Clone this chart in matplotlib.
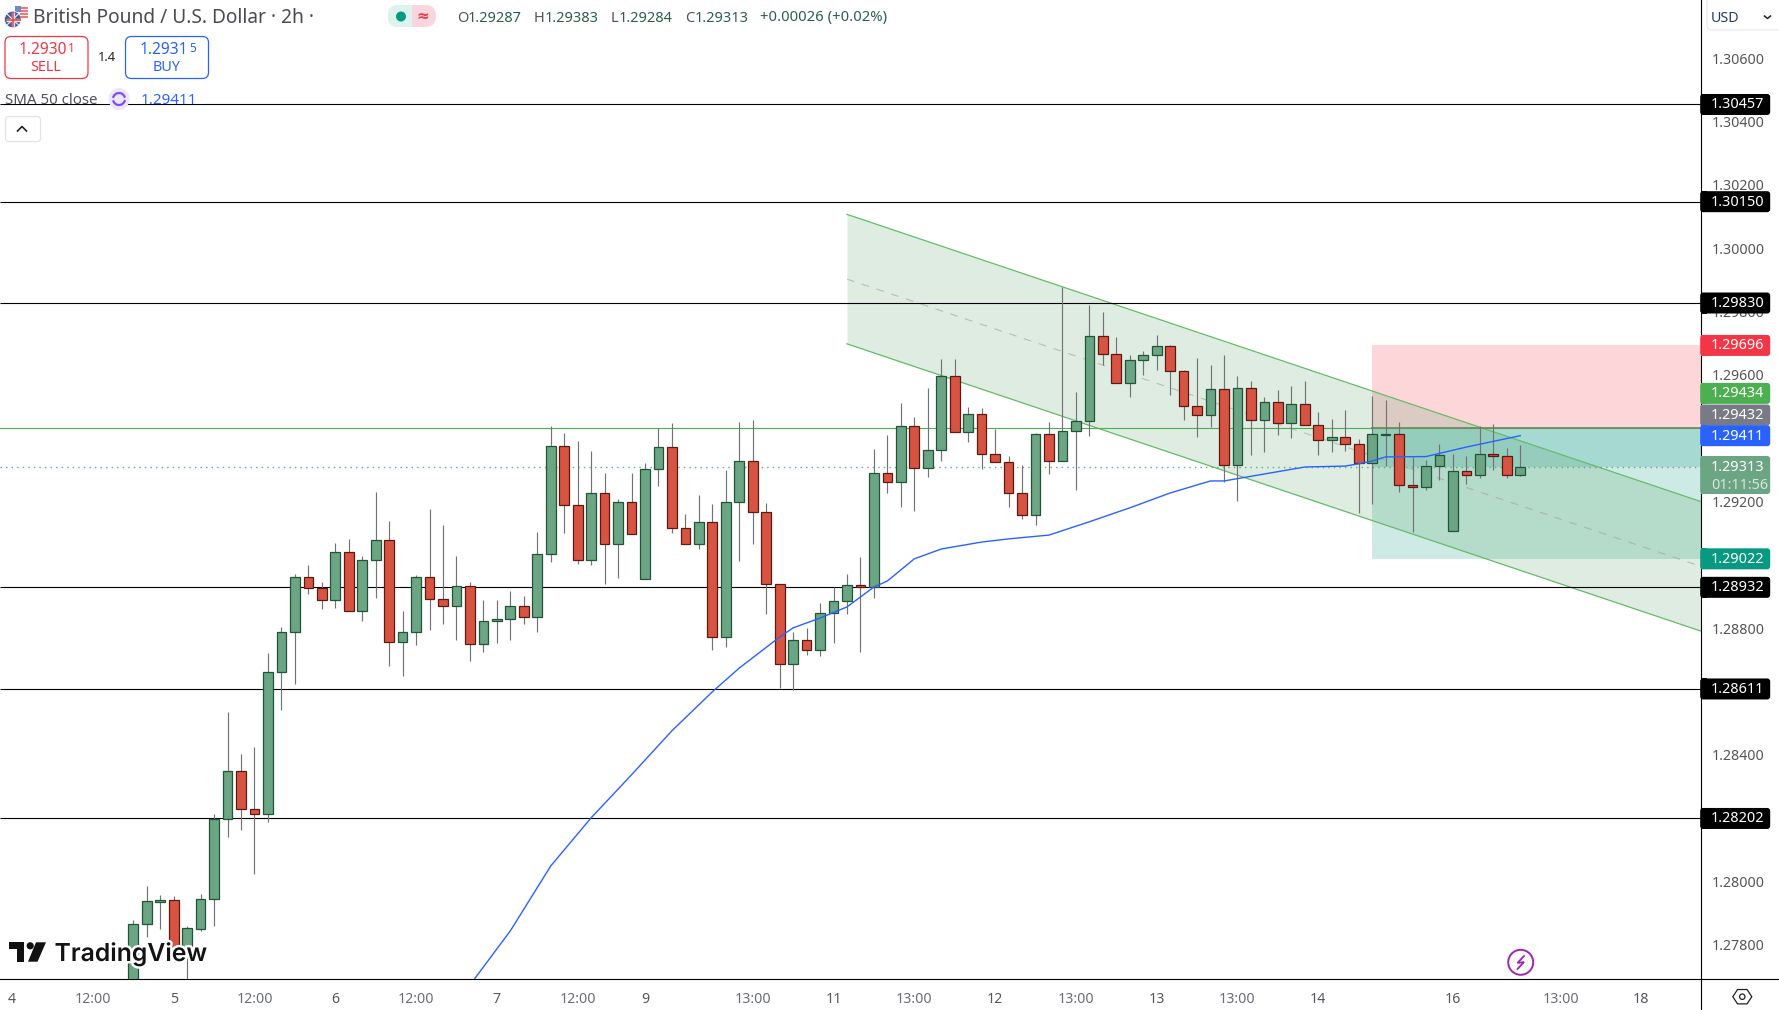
import numpy as np
import matplotlib
matplotlib.use("Agg")
import matplotlib.pyplot as plt
import matplotlib.patheffects as pe
from matplotlib.patches import FancyBboxPatch, Rectangle, Circle, Polygon, Ellipse
from matplotlib.transforms import ScaledTranslation

# ---------- data (prices in 1e-5 points) ----------
open_pts = [127629,127868,127939,127944,127762,127854,127947,128200,128351,128231,
            128215,128664,128790,128964,128929,128891,129043,128857,129018,129081,
            128759,128790,128964,128894,128872,128935,128752,128825,128831,128872,
            128838,129036,129378,129191,129018,129229,129068,129201,128958,129305,
            129374,129119,129068,129138,128774,129201,129330,129169,128942,128689,
            128765,128733,128850,128888,128939,128934,129292,129264,129441,129308,
            129365,129599,129422,129479,129352,129327,129229,129160,129415,129330,
            129425,129456,129725,129668,129576,129649,129665,129693,129614,129504,
            129475,129558,129318,129561,129460,129516,129450,129510,129444,129396,
            129406,129384,129324,129412,129415,129254,129248,129314,129109,129299,
            129288,129352,129346,129287]
close_pts = [127868,127941,127945,127762,127855,127947,128200,128351,128231,128215,
             128664,128790,128964,128929,128891,129043,128857,129018,129081,128759,
             128790,128964,128894,128872,128935,128752,128825,128831,128872,128838,
             129036,129378,129191,129018,129229,129068,129201,129100,129305,129374,
             129119,129068,129138,128774,129201,129330,129169,128942,128689,128765,
             128733,128850,128888,128939,128934,129292,129264,129441,129308,129365,
             129599,129422,129479,129352,129327,129229,129160,129415,129330,129425,
             129456,129725,129668,129576,129649,129665,129693,129614,129504,129475,
             129558,129318,129561,129460,129516,129450,129510,129444,129396,129406,
             129384,129324,129415,129415,129254,129248,129314,129349,129299,129288,
             129352,129346,129286,129313]
high_pts = [127882,127989,127960,127957,127863,127964,128216,128539,128406,128428,
            128725,128807,128974,129003,128948,129072,129085,129031,129233,129142,
            128857,128971,129180,129129,129031,128949,128892,128892,128921,128905,
            129107,129442,129420,129394,129363,129293,129211,129293,129325,129435,
            129451,129164,129224,129195,129303,129454,129461,129198,128942,128791,
            128804,128883,128933,128974,129028,129369,129413,129514,129470,129562,
            129653,129653,129502,129498,129433,129347,129318,129420,129454,129880,
            129549,129824,129802,129723,129666,129678,129729,129697,129618,129656,
            129634,129666,129600,129584,129533,129555,129568,129584,129486,129464,
            129492,129401,129536,129524,129454,129343,129334,129384,129353,129347,
            129441,129448,129372,129383]
low_pts = [127613,127829,127854,127749,127661,127848,127863,128145,128166,128027,
           128192,128543,128628,128912,128865,128868,128857,128827,128899,128685,
           128653,128751,128798,128817,128767,128700,128729,128757,128767,128817,
           128792,129013,129105,129007,129004,128941,128963,129100,128958,129253,
           129105,129068,129054,128735,128742,129016,129070,128849,128615,128609,
           128719,128716,128757,128849,128729,128899,129231,129187,129174,129282,
           129332,129422,129392,129307,129327,129187,129149,129130,129291,129330,
           129240,129411,129635,129576,129534,129604,129619,129540,129462,129408,
           129439,129264,129206,129351,129360,129414,129405,129444,129351,129360,
           129364,129168,129196,129314,129234,129108,129240,129271,129109,129259,
           129278,129304,129276,129284]
sma_idx = [25,28,31,34,37,40,43,45,48,49,51,53,55,56,58,60,63,65,68,71,74,77,80,81,84,87,90,91,92,93,96,99,103]
sma_pts = [127676,127847,128052,128204,128340,128479,128602,128677,128775,128804,128835,128870,
           128933,128952,129022,129053,129075,129085,129097,129139,129183,129230,129268,129268,
           129290,129312,129315,129322,129331,129344,129345,129375,129411]
levels = [1.30457, 1.30150, 1.29830, 1.28932, 1.28611, 1.28202]
entry_price = 1.29434
stop_price = 1.29696
target_price = 1.29022
last_price = 1.29313
sma_last = 1.29411
ask_line = 1.29432
channel_t = [53, 116.4]
channel_upper = [1.30110, 1.29203]
channel_lower = [1.29701, 1.28794]
box_start = 92
ytick_vals = [1.306,1.304,1.302,1.300,1.298,1.296,1.292,1.288,1.284,1.280,1.278]
xtick_idx = [-9,-3,3,9,15,21,27,33,38,46,52,58,64,70,76,82,88,98,106,112]
xtick_lab = ['4','12:00','5','12:00','6','12:00','7','12:00','9','13:00','11','13:00','12','13:00','13','13:00','14','16','13:00','18']
tag_labels = ['1.30457','1.30150','1.29830','1.29696','1.29434','1.29432','1.29411','1.29022','1.28932','1.28611','1.28202']

# ---------- style ----------
W, H = 1779, 1010
FONT = 'Noto Sans'
plt.rcParams['font.family'] = [FONT, 'DejaVu Sans']
GF, GE = '#6BA583', '#225437'
RF, RE = '#D75442', '#5B1A13'
WICK = '#737375'
AX_R, AX_B = 1700.7, 979.3
o = np.array(open_pts)/1e5; c = np.array(close_pts)/1e5
h = np.array(high_pts)/1e5; l = np.array(low_pts)/1e5
idx = np.arange(len(o))

fig = plt.figure(figsize=(W/100, H/100), dpi=100, facecolor='white')
ax = fig.add_axes([0, 1-AX_B/H, AX_R/W, AX_B/H])
ax.set_xlim(-9.9, 116.4)
ax.set_ylim(1.27694, 1.30787)
for s in ('top', 'left'):
    ax.spines[s].set_visible(False)
for s in ('right', 'bottom'):
    ax.spines[s].set_color('black'); ax.spines[s].set_linewidth(0.8)

# position box
bx = (box_start+9.9)/126.3
ax.axhspan(entry_price, stop_price, xmin=bx, xmax=1, color='#F23645', alpha=0.2, lw=0, zorder=1)
ax.axhspan(target_price, entry_price, xmin=bx, xmax=1, color='#089981', alpha=0.2, lw=0, zorder=1)
ax.axhspan(last_price, entry_price, xmin=bx, xmax=1, color='#089981', alpha=0.2, lw=0, zorder=1)
# channel
ax.fill_between(channel_t, channel_lower, channel_upper, color='#4C9A5A', alpha=0.18, lw=0, zorder=1.2)
ax.plot(channel_t, channel_upper, color='#66BB6A', lw=0.9, zorder=1.5)
ax.plot(channel_t, channel_lower, color='#66BB6A', lw=0.9, zorder=1.5)
ax.plot(channel_t, (np.array(channel_upper)+np.array(channel_lower))/2, color='#9E9E9E', lw=0.8,
        ls=(0, (7, 7)), alpha=0.6, zorder=1.5)
# levels
ax.hlines(levels, -9.9, 116.4, color='black', lw=0.8, zorder=1.8)
ax.axhline(entry_price, color='#4CAF50', lw=0.8, zorder=1.8)
ax.plot([box_start, 116.4], [entry_price, entry_price], color='#6E8F5E', lw=1.3, zorder=1.85)
ax.axhline(last_price, color=GF, lw=1.0, ls=(0, (1, 3)), zorder=1.8)

# candles
up = c >= o
ax.vlines(idx, l, h, color=WICK, lw=0.85, zorder=2)
ax.bar(idx[up], (c-o)[up], bottom=o[up], width=0.72, color=GF, edgecolor=GE, lw=0.9, zorder=3)
ax.bar(idx[~up], (c-o)[~up], bottom=o[~up], width=0.72, color=RF, edgecolor=RE, lw=0.9, zorder=3)
# SMA
ax.plot(sma_idx, np.array(sma_pts)/1e5, color='#2962FF', lw=1.0, zorder=4, solid_joinstyle='round')

# ticks
ax.yaxis.tick_right()
ax.set_yticks(ytick_vals, [f'{v:.5f}' for v in ytick_vals], fontsize=10.2, color='#555558')
ax.tick_params(axis='y', length=0, pad=7.8)
up1 = ScaledTranslation(0, 1/100, fig.dpi_scale_trans)
for t in ax.get_yticklabels():
    t.set_transform(t.get_transform()+up1)
ax.set_xticks(xtick_idx, xtick_lab, fontsize=10.2, color='#6A6D75')
ax.tick_params(axis='x', length=0, pad=8.8)
for t, lab in zip(ax.get_xticklabels(), xtick_lab):
    if ':' not in lab:
        t.set_fontweight('bold'); t.set_color('#55575C')

# ---------- overlay in pixel coordinates ----------
ov = fig.add_axes([0, 0, 1, 1], zorder=10)
ov.set_xlim(0, W); ov.set_ylim(H, 0); ov.axis('off'); ov.patch.set_alpha(0)

def ypx(p):
    return H - ax.transData.transform((0, p))[1]

# axis extensions
ov.plot([AX_R, AX_R], [AX_B, H], color='black', lw=0.8)
ov.plot([AX_R, W], [AX_B, AX_B], color='black', lw=0.8)

def tag(y, h_, col):
    ov.add_patch(FancyBboxPatch((AX_R+2, y-h_/2+2.5), 65, h_-5, boxstyle='round,pad=2.5,rounding_size=3', fc=col, ec='none', zorder=2))
    ov.add_patch(Rectangle((AX_R, y-h_/2), 6, h_, fc=col, ec='none', zorder=2))

tag_col = {'1.29696':'#F23645','1.29434':'#4CAF50','1.29432':'#787B86','1.29411':'#2962FF','1.29022':'#089981'}
tag_off = {'1.29434':-35.0,'1.29432':-14.0}
for lab in tag_labels:
    y = ypx(float(lab)) + tag_off.get(lab, 0)
    tag(y, 21, tag_col.get(lab, 'black'))
    ov.text(AX_R+10.5, y+0.5, lab, color='white', fontsize=10.4, va='center', ha='left', zorder=3, fontweight='semibold')
# current price tag
y0 = ypx(last_price)
tag(y0+8.3, 38, GF)
ov.text(AX_R+10.5, y0+0.5, f'{last_price:.5f}', color='white', fontsize=10.4, va='center', zorder=3, fontweight='semibold')
ov.text(AX_R+10.5, y0+18.5, '01:11:56', color='#D5E6DC', fontsize=10.4, va='center', zorder=3, fontweight='semibold')

# USD box
ov.add_patch(FancyBboxPatch((1707, -6), 80, 36, boxstyle='round,pad=0,rounding_size=5', fc='white', ec='#E6E8EE', lw=0.8))
ov.text(1711, 18, 'USD', color='#2A3A6E', fontsize=10.3, va='center')
ov.plot([1764.5, 1767.5, 1770.5], [16, 18.5, 16], color='#222', lw=1.1)

# gear
ang = np.deg2rad(np.arange(0, 360, 60))
ov.add_patch(Polygon(np.c_[1742.3+9.5*np.cos(ang), 996.7+8.3*np.sin(ang)], closed=True, fc='white', ec='#222', lw=0.9))
ov.add_patch(Circle((1742.3, 996.7), 2.7, fc='white', ec='#222', lw=0.9))
# lightning
ov.add_patch(Circle((1520.7, 962.3), 12.5, fc='white', ec='#9C27B0', lw=1.4))
ov.plot([1524, 1517.5, 1524, 1517.5], [956, 963, 962, 969], color='#9C27B0', lw=1.3, solid_joinstyle='miter')

# TradingView watermark
halo = [pe.withStroke(linewidth=3.5, foreground='white')]
for shape in [Polygon([(9,942.3),(24,942.3),(24,961.7),(17,961.7),(17,949.3),(9,949.3)], closed=True, fc='#111', ec='white', lw=0),
              Polygon([(36,942.3),(46,942.3),(37.5,961.7),(28,961.7)], closed=True, fc='#111', ec='white', lw=0)]:
    ov.add_patch(shape)
ov.add_patch(Circle((30.2, 945.8), 3.6, fc='#111', ec='none'))
ov.text(54.5, 961, 'TradingView', fontsize=17.8, family='Inter', fontweight='semibold', color='#131313',
        va='baseline', ha='left', path_effects=halo, zorder=5)

# header flags
ov.add_patch(Circle((21, 12.5), 7.2, fc='#EFEFF4', ec='none'))
ov.add_patch(Rectangle((15, 5.5), 6, 6.5, fc='#6C8CC9', ec='none'))
for yy in (8, 11, 14, 17):
    ov.plot([20, 28], [yy, yy], color='#E65B5B', lw=1.1, solid_capstyle='butt')
ov.add_patch(Circle((12.8, 19.5), 8.3, fc='#3E5C9A', ec='white', lw=0.5))
ov.plot([5.5, 20.5], [19.5, 19.5], color='#F2DCDC', lw=2.4, solid_capstyle='butt')
ov.plot([12.8, 12.8], [11.8, 27.2], color='#F2DCDC', lw=2.4, solid_capstyle='butt')
ov.plot([7, 18.5], [14, 25], color='#F2DCDC', lw=0.9)
ov.plot([7, 18.5], [25, 14], color='#F2DCDC', lw=0.9)
ov.plot([5.5, 20.5], [19.5, 19.5], color='#D9464B', lw=1.1, solid_capstyle='butt')
ov.plot([12.8, 12.8], [11.8, 27.2], color='#D9464B', lw=1.1, solid_capstyle='butt')

ov.text(33, 18, 'British Pound / U.S. Dollar · 2h ·', fontsize=13.8, color='#4A4C52', va='center')
ov.add_patch(FancyBboxPatch((388, 5), 48, 22, boxstyle='round,pad=0,rounding_size=10.5', fc='#F8D6DF', ec='none'))
ov.add_patch(FancyBboxPatch((388, 5), 24, 22, boxstyle='round,pad=0,rounding_size=10', fc='#DDF3EE', ec='none'))
ov.add_patch(Rectangle((400, 5), 12, 22, fc='#DDF3EE', ec='none'))
ov.add_patch(Circle((401, 16.5), 5, fc='#089981', ec='none'))
ov.text(423, 16, '≈', color='#F23645', fontsize=11, ha='center', va='center', family='DejaVu Sans', fontweight='bold')

VAL = '#2C6148'
for x, letter, val in [(457.5, 'O', '1.29287'), (534, 'H', '1.29383'), (611, 'L', '1.29284'), (685, 'C', '1.29313')]:
    ov.text(x, 18, letter, fontsize=10.5, color='#50535B', va='center')
    ov.text(x + {'O': 10.5, 'H': 10.5, 'L': 8, 'C': 9.5}[letter], 18, val, fontsize=10.5, color=VAL, va='center')
ov.text(760.5, 18, '+0.00026 (+0.02%)', fontsize=10.7, color=VAL, va='center')

# sell / buy
ov.add_patch(FancyBboxPatch((5, 36.5), 83, 42, boxstyle='round,pad=0,rounding_size=6', fc='white', ec='#F23645', lw=0.9))
ov.add_patch(FancyBboxPatch((125.5, 36.5), 83, 42, boxstyle='round,pad=0,rounding_size=6', fc='white', ec='#2962FF', lw=0.9))
ov.text(18.3, 50.5, '1.2930', color='#F23645', fontsize=11.2, va='center', fontweight='semibold')
ov.text(68, 49, '1', color='#F23645', fontsize=8.5, va='center')
ov.text(45.5, 67.5, 'SELL', color='#F23645', fontsize=10.4, ha='center', va='center')
ov.text(107, 57.5, '1.4', color='#222', fontsize=9.3, ha='center', va='center')
ov.text(140, 50.5, '1.2931', color='#2962FF', fontsize=11.2, va='center', fontweight='semibold')
ov.text(189, 49, '5', color='#2962FF', fontsize=8.5, va='center')
ov.text(167, 67.5, 'BUY', color='#2962FF', fontsize=10.4, ha='center', va='center')

# SMA legend
ov.add_patch(Rectangle((0, 89), 205, 15.2, fc='white', alpha=0.55, ec='none', zorder=0))
ov.text(5, 100, 'SMA 50 close', fontsize=10.8, color='#50535B', va='center')
ov.add_patch(Ellipse((119, 99), 21, 22, fc='#EDE7FB', ec='none'))
th = np.linspace(0.35, 2.75, 20)
ov.plot(119+6*np.cos(th), 99+6*np.sin(th), color='#7C4DFF', lw=1.6)
ov.plot(119+6*np.cos(th+np.pi), 99+6*np.sin(th+np.pi), color='#7C4DFF', lw=1.6)
ov.text(141, 100, f'{sma_last:.5f}', fontsize=11, color='#2962FF', va='center')

# collapse button
ov.add_patch(FancyBboxPatch((5.5, 116.5), 35, 25, boxstyle='round,pad=0,rounding_size=3', fc='white', ec='#E0E3EB', lw=0.9))
ov.plot([17.5, 22, 26.5], [131, 126.5, 131], color='#222', lw=1.2)

fig.savefig('out.png', dpi=100, facecolor='white')
